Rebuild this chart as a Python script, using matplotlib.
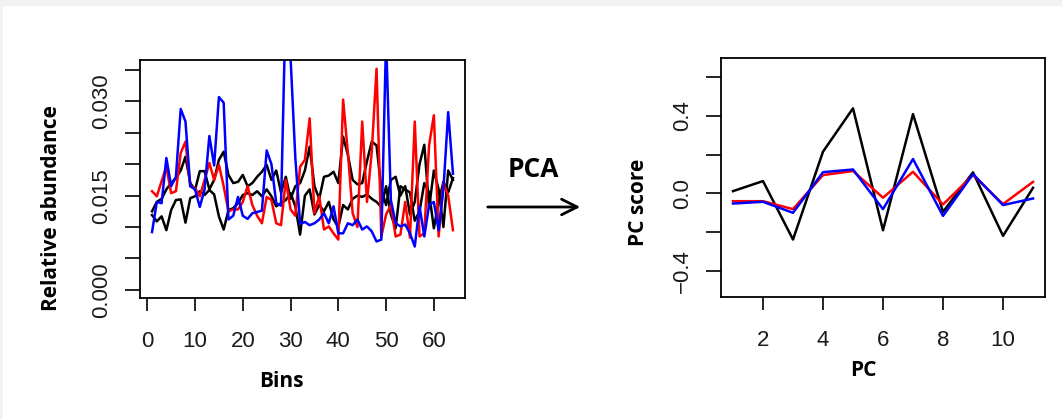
#ビン毎の相対存在量とPCスコアの比較図

import numpy as np
import matplotlib.pyplot as plt
from matplotlib.patches import Rectangle, FancyArrowPatch

#左図: ビン毎の相対存在量 (64ビン)
bins = np.arange(1, 65)
abund_black1 = [0.0119, 0.0109, 0.0117, 0.0095, 0.0127, 0.0143, 0.0144, 0.0107, 0.0146, 0.0149,
                0.0157, 0.0151, 0.0159, 0.0152, 0.0117, 0.0096, 0.0127, 0.0130, 0.0138, 0.0151,
                0.0154, 0.0151, 0.0157, 0.0149, 0.0160, 0.0149, 0.0133, 0.0138, 0.0143, 0.0154,
                0.0133, 0.0088, 0.0150, 0.0160, 0.0120, 0.0135, 0.0125, 0.0140, 0.0112, 0.0100,
                0.0135, 0.0128, 0.0145, 0.0150, 0.0148, 0.0152, 0.0145, 0.0140, 0.0132, 0.0165,
                0.0120, 0.0098, 0.0165, 0.0160, 0.0155, 0.0110, 0.0125, 0.0170, 0.0155, 0.0098,
                0.0140, 0.0172, 0.0155, 0.0178]
abund_black2 = [0.0125, 0.0140, 0.0145, 0.0160, 0.0170, 0.0178, 0.0190, 0.0212, 0.0170, 0.0159,
                0.0189, 0.0189, 0.0160, 0.0175, 0.0207, 0.0220, 0.0183, 0.0170, 0.0172, 0.0183,
                0.0165, 0.0170, 0.0180, 0.0188, 0.0199, 0.0175, 0.0190, 0.0155, 0.0180, 0.0145,
                0.0165, 0.0170, 0.0190, 0.0228, 0.0165, 0.0145, 0.0180, 0.0182, 0.0188, 0.0170,
                0.0244, 0.0215, 0.0175, 0.0168, 0.0170, 0.0205, 0.0236, 0.0230, 0.0160, 0.0135,
                0.0175, 0.0180, 0.0150, 0.0165, 0.0120, 0.0140, 0.0200, 0.0231, 0.0130, 0.0190,
                0.0160, 0.0100, 0.0190, 0.0175]
abund_red = [0.0157, 0.0149, 0.0173, 0.0196, 0.0154, 0.0157, 0.0218, 0.0236, 0.0165, 0.0162,
             0.0149, 0.0175, 0.0202, 0.0175, 0.0199, 0.0165, 0.0125, 0.0128, 0.0128, 0.0140,
             0.0165, 0.0135, 0.0118, 0.0106, 0.0148, 0.0143, 0.0106, 0.0103, 0.0175, 0.0128,
             0.0118, 0.0196, 0.0207, 0.0273, 0.0122, 0.0149, 0.0096, 0.0101, 0.0090, 0.0080,
             0.0303, 0.0218, 0.0122, 0.0100, 0.0268, 0.0140, 0.0220, 0.0352, 0.0085, 0.0120,
             0.0135, 0.0085, 0.0088, 0.0140, 0.0083, 0.0268, 0.0085, 0.0090, 0.0230, 0.0278,
             0.0085, 0.0170, 0.0150, 0.0095]
abund_blue = [0.0092, 0.0140, 0.0138, 0.0210, 0.0165, 0.0180, 0.0288, 0.0268, 0.0165, 0.0160,
              0.0132, 0.0160, 0.0245, 0.0198, 0.0307, 0.0298, 0.0112, 0.0118, 0.0148, 0.0118,
              0.0113, 0.0122, 0.0124, 0.0126, 0.0222, 0.0200, 0.0138, 0.0134, 0.0460, 0.0370,
              0.0210, 0.0105, 0.0108, 0.0103, 0.0106, 0.0112, 0.0122, 0.0106, 0.0133, 0.0090,
              0.0090, 0.0106, 0.0103, 0.0112, 0.0096, 0.0101, 0.0093, 0.0077, 0.0080, 0.0400,
              0.0143, 0.0106, 0.0101, 0.0104, 0.0090, 0.0069, 0.0133, 0.0085, 0.0135, 0.0140,
              0.0095, 0.0160, 0.0283, 0.0185]

#右図: PCスコア (PC1~PC11)
pcs = np.arange(1, 12)
score_black = [0.012, 0.064, -0.238, 0.216, 0.440, -0.190, 0.410, -0.095, 0.109, -0.219, 0.029]
score_red = [-0.040, -0.040, -0.081, 0.095, 0.116, -0.022, 0.112, -0.057, 0.095, -0.055, 0.060]
score_blue = [-0.052, -0.043, -0.100, 0.110, 0.124, -0.081, 0.178, -0.116, 0.100, -0.060, -0.026]

#目盛り
abund_ticks = [0.000, 0.005, 0.010, 0.015, 0.020, 0.025, 0.030, 0.035]
abund_ticklabels = ['0.000', '', '', '0.015', '', '', '0.030', '']
bin_ticks = [0, 10, 20, 30, 40, 50, 60]
score_ticks = [-0.4, -0.2, 0.0, 0.2, 0.4, 0.6]
score_ticklabels = ['\u22120.4', '', '0.0', '', '0.4', '']
pc_ticks = [2, 4, 6, 8, 10]

W, H = 1062, 419
tick_font = 'Liberation Sans'
label_font = 'Open Sans'
tick_color = '#1a1a1a'
lw = 1.8


def fx(px):
    return px / W


def fy(py):
    return 1 - py / H


def style_axes(ax):
    for s in ax.spines.values():
        s.set_linewidth(1.3)
    ax.tick_params(axis='x', direction='out', length=9.5, width=1.2, pad=14,
                   labelsize=16, labelcolor=tick_color)
    ax.tick_params(axis='y', direction='out', length=11, width=1.2, pad=9,
                   labelsize=16, labelcolor=tick_color)
    for t in ax.get_xticklabels() + ax.get_yticklabels():
        t.set_fontfamily(tick_font)


fig = plt.figure(figsize=(W / 100, H / 100), dpi=100)
fig.patch.set_facecolor('#f2f2f2')
fig.add_artist(Rectangle((fx(3), 0), 1, fy(6), transform=fig.transFigure,
                         facecolor='white', edgecolor='none', zorder=0))

#左図
ax1 = fig.add_axes([fx(140), fy(298), fx(325), 238 / H])
ax1.plot(bins, abund_black1, color='black', lw=lw)
ax1.plot(bins, abund_black2, color='black', lw=lw)
ax1.plot(bins, abund_red, color='red', lw=lw)
ax1.plot(bins, abund_blue, color='blue', lw=lw)
ax1.set_xlim(-1.52, 66.52)
ax1.set_ylim(-0.0013, 0.0366)
ax1.set_xticks(bin_ticks)
ax1.set_yticks(abund_ticks)
ax1.set_yticklabels(abund_ticklabels, rotation=90, va='center')
style_axes(ax1)

#右図
ax2 = fig.add_axes([fx(721), fy(297), fx(324), 239 / H])
ax2.plot(pcs, score_black, color='black', lw=lw)
ax2.plot(pcs, score_red, color='red', lw=lw)
ax2.plot(pcs, score_blue, color='blue', lw=lw)
ax2.set_xlim(0.6, 11.4)
ax2.set_ylim(-0.535, 0.70)
ax2.set_xticks(pc_ticks)
ax2.set_yticks(score_ticks)
ax2.set_yticklabels(score_ticklabels, rotation=90, va='center')
style_axes(ax2)

#軸ラベル
fig.text(fx(52), fy(208), 'Relative abundance', rotation=90, ha='center', va='center',
         fontsize=15, fontweight='bold', family=label_font)
fig.text(fx(281), fy(381), 'Bins', ha='center', va='center',
         fontsize=15, fontweight='bold', family=label_font)
fig.text(fx(638), fy(202), 'PC score', rotation=90, ha='center', va='center',
         fontsize=15, fontweight='bold', family=label_font)
fig.text(fx(863), fy(370), 'PC', ha='center', va='center',
         fontsize=15, fontweight='bold', family=label_font)

#PCAの矢印
fig.text(fx(533), fy(169), 'PCA', ha='center', va='center',
         fontsize=19, fontweight='bold', family=label_font)
fig.add_artist(FancyArrowPatch((fx(485), fy(207)), (fx(583), fy(207)),
                               transform=fig.transFigure, arrowstyle='->',
                               mutation_scale=28, lw=2, color='black'))

plt.savefig('out.png', dpi=100, facecolor=fig.get_facecolor())
